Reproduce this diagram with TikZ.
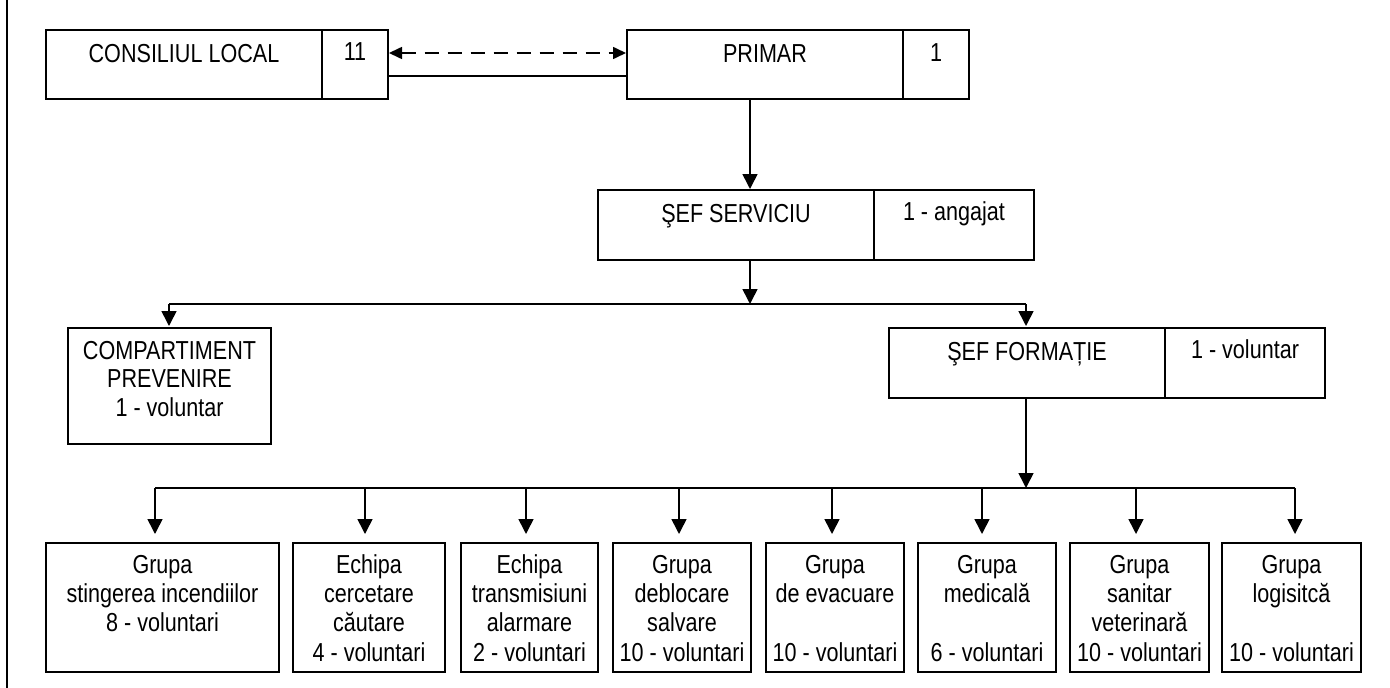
\documentclass[tikz,border=0pt]{standalone}
\usepackage{fontspec}
\setmainfont{Liberation Sans}[FakeStretch=0.83]
\usetikzlibrary{arrows.meta,calc}
\newcommand\toprl{\rule{0pt}{21pt}}
\tikzset{
  box/.style={draw, line width=2pt, inner sep=0pt, anchor=north west},
  txt/.style={anchor=north, inner sep=0pt, align=center, font=\fontsize{26}{28.5}\selectfont},
  gtxt/.style={txt, font=\fontsize{26}{29.3}\selectfont},
  conn/.style={line width=1.6pt},
  arr/.style={conn, -{Triangle[width=15pt,length=15pt]}},
  garr/.style={arr, shorten >=8pt},
  darr/.style={conn, dash pattern=on 14pt off 9pt,
    {Triangle[width=12pt,length=13pt]}-{Triangle[width=12pt,length=13pt]}},
}
\begin{document}
\begin{tikzpicture}[x=1pt,y=-1pt]
\useasboundingbox (0,0) rectangle (1390,688);
% left border
\coordinate (lt) at (7,0);
\coordinate (lb) at (7,688);
\draw[line width=2pt] (lt) -- (lb);

% top row
\node[box, minimum width=276pt, minimum height=69pt] (cl) at (45,29) {};
\node[box, minimum width=66pt, minimum height=69pt] (cln) at (321,29) {};
\node[box, minimum width=276pt, minimum height=69pt] (pr) at (626,29) {};
\node[box, minimum width=66pt, minimum height=69pt] (prn) at (902,29) {};
\node[txt] (clt) at ($(cl.north)+(0,12)$) {\toprl CONSILIUL LOCAL};
\node[txt] (clnt) at ($(cln.north)+(0,10.5)$) {\toprl 11};
\node[txt] (prt) at ($(pr.north)+(0,12)$) {\toprl PRIMAR};
\node[txt] (prnt) at ($(prn.north)+(0,11)$) {\toprl 1};

\draw[darr] ([yshift=11.5pt]cln.east) -- ([yshift=11.5pt]pr.west);
\draw[conn] ([yshift=-11.5pt]cln.east) -- ([yshift=-11.5pt]pr.west);

% sef serviciu
\node[box, minimum width=276pt, minimum height=70pt] (ss) at (597,189) {};
\node[box, minimum width=160pt, minimum height=70pt] (ssn) at (873,189) {};
\node[txt] (sst) at ($(ss.north)+(0,12.5)$) {\toprl ŞEF SERVICIU};
\node[txt] (ssnt) at ($(ssn.north)+(0,10.5)$) {\toprl 1 - angajat};

\coordinate (c1) at (750,0);
\draw[arr] (pr.south -| c1) -- (ss.north -| c1);

% level 2
\node[box, minimum width=203pt, minimum height=116pt] (cp) at (67,327) {};
\node[txt] (cpt) at ($(cp.north)+(0,11)$) {\toprl COMPARTIMENT\\PREVENIRE\\1 - voluntar};
\node[box, minimum width=276pt, minimum height=70pt] (sf) at (888,327) {};
\node[box, minimum width=160pt, minimum height=70pt] (sfn) at (1164,327) {};
\node[txt] (sft) at ($(sf.north)+(0,12)$) {\toprl ŞEF FORMAȚIE};
\node[txt] (sfnt) at ($(sfn.north)+(0,10.5)$) {\toprl 1 - voluntar};

\coordinate (h1) at (750,304);
\coordinate (h1l) at (169,304);
\coordinate (h1r) at (1026,304);
\draw[arr] (ss.south -| h1) -- (h1);
\draw[conn] (h1l) -- (h1r);
\draw[arr, shorten >=1pt] (h1l) -- (cp.north -| h1l);
\draw[arr, shorten >=1pt] (h1r) -- (sf.north -| h1r);

% bottom row
\node[box, minimum width=233pt, minimum height=129pt] (g1) at (45,542) {};
\node[box, minimum width=152pt, minimum height=129pt] (g2) at (292,542) {};
\node[box, minimum width=137pt, minimum height=129pt] (g3) at (460,542) {};
\node[box, minimum width=138pt, minimum height=129pt] (g4) at (612,542) {};
\node[box, minimum width=138pt, minimum height=129pt] (g5) at (765,542) {};
\node[box, minimum width=138pt, minimum height=129pt] (g6) at (917,542) {};
\node[box, minimum width=139pt, minimum height=129pt] (g7) at (1069,542) {};
\node[box, minimum width=139pt, minimum height=129pt] (g8) at (1221,542) {};

\node[gtxt] (g1t) at ($(g1.north)+(0,10)$) {\toprl Grupa\\stingerea incendiilor\\8 - voluntari};
\node[gtxt] (g2t) at ($(g2.north)+(0,10)$) {\toprl Echipa\\cercetare\\căutare\\4 - voluntari};
\node[gtxt] (g3t) at ($(g3.north)+(0,10)$) {\toprl Echipa\\transmisiuni\\alarmare\\2 - voluntari};
\node[gtxt] (g4t) at ($(g4.north)+(0,10)$) {\toprl Grupa\\deblocare\\salvare\\10 - voluntari};
\node[gtxt] (g5t) at ($(g5.north)+(0,10)$) {\toprl Grupa\\de evacuare\\\mbox{}\\10 - voluntari};
\node[gtxt] (g6t) at ($(g6.north)+(0,10)$) {\toprl Grupa\\medicală\\\mbox{}\\6 - voluntari};
\node[gtxt] (g7t) at ($(g7.north)+(0,10)$) {\toprl Grupa\\sanitar\\veterinară\\10 - voluntari};
\node[gtxt] (g8t) at ($(g8.north)+(0,10)$) {\toprl Grupa\\logisitcă\\\mbox{}\\10 - voluntari};

\coordinate (h2) at (1026,488);
\draw[arr] (sf.south -| h2) -- (h2);
\coordinate (b1) at (155,488);
\coordinate (b2) at (365,488);
\coordinate (b3) at (526,488);
\coordinate (b4) at (679,488);
\coordinate (b5) at (832,488);
\coordinate (b6) at (982,488);
\coordinate (b7) at (1136,488);
\coordinate (b8) at (1295,488);
\draw[conn] (b1) -- (b8);
\foreach \i in {1,...,8} {
  \draw[garr] (b\i) -- (g\i.north -| b\i);
}
\end{tikzpicture}
\end{document}
